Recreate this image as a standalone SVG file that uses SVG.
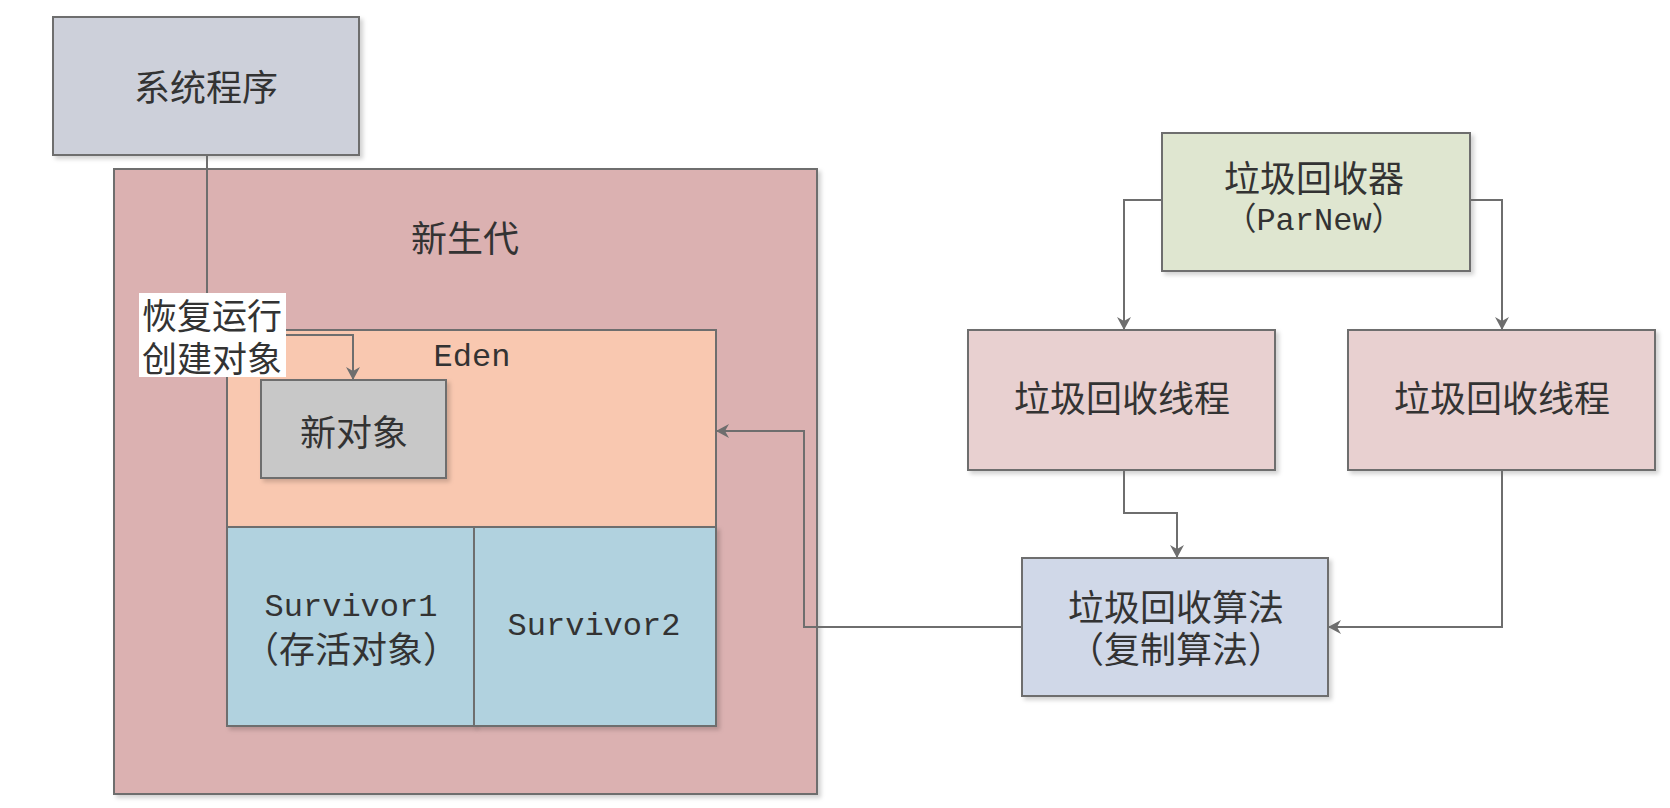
<svg xmlns="http://www.w3.org/2000/svg" width="1670" height="808" viewBox="0 0 1670 808">
<style>
.box{stroke:#6e6e6e;stroke-width:2}
.cjk{font-family:"Noto Sans CJK SC","Liberation Sans",sans-serif;font-size:36px;fill:#333;text-anchor:middle;dominant-baseline:central}
.lbl{font-family:"Noto Sans CJK SC","Liberation Sans",sans-serif;font-size:35px;fill:#333;text-anchor:middle;dominant-baseline:central}
.lat{font-family:"Liberation Mono","Noto Sans CJK SC",monospace;font-size:32px;fill:#333;text-anchor:middle;dominant-baseline:central}
.conn{fill:none;stroke:#6e6e6e;stroke-width:2}
</style>
<defs>
<filter id="sh" x="-5%" y="-5%" width="115%" height="115%">
<feDropShadow dx="3" dy="3" stdDeviation="2" flood-color="#000" flood-opacity="0.18"/>
</filter>
<marker id="arr" markerWidth="14" markerHeight="14" refX="12" refY="7" orient="auto" markerUnits="userSpaceOnUse">
<path d="M0,0 L13,7 L0,14 L4,7 Z" fill="#6e6e6e"/>
</marker>
</defs>
<rect width="1670" height="808" fill="#fff"/>
<g id="sys">
<rect class="box" x="53" y="17" width="306" height="138" fill="#cdd0da" filter="url(#sh)"/>
<text class="cjk" x="206" y="85">系统程序</text>
</g>
<g id="young">
<rect class="box" x="114" y="169" width="703" height="625" fill="#dbb1b1" filter="url(#sh)"/>
<text class="cjk" x="465" y="236">新生代</text>
</g>
<g id="eden">
<rect class="box" x="227" y="330" width="489" height="197" fill="#f9c8b0"/>
<text class="lat" x="472" y="357">Eden</text>
</g>
<g id="survivor1">
<rect class="box" x="227" y="527" width="247" height="199" fill="#b1d2df" filter="url(#sh)"/>
<text class="lat" x="351" y="607">Survivor1</text>
<text class="cjk" x="351" y="647">（存活对象）</text>
</g>
<g id="survivor2">
<rect class="box" x="474" y="527" width="242" height="199" fill="#b1d2df" filter="url(#sh)"/>
<text class="lat" x="594" y="626">Survivor2</text>
</g>
<g id="newobj">
<rect class="box" x="261" y="380" width="185" height="98" fill="#c8c8c8" filter="url(#sh)"/>
<text class="cjk" x="354" y="430">新对象</text>
</g>
<g id="gc">
<rect class="box" x="1162" y="133" width="308" height="138" fill="#dfe6d0" filter="url(#sh)"/>
<text class="cjk" x="1314" y="176">垃圾回收器</text>
<text class="lat" x="1314" y="221">（ParNew）</text>
</g>
<g id="thread1">
<rect class="box" x="968" y="330" width="307" height="140" fill="#e8d0d0" filter="url(#sh)"/>
<text class="cjk" x="1122" y="396">垃圾回收线程</text>
</g>
<g id="thread2">
<rect class="box" x="1348" y="330" width="307" height="140" fill="#e8d0d0" filter="url(#sh)"/>
<text class="cjk" x="1502" y="396">垃圾回收线程</text>
</g>
<g id="algo">
<rect class="box" x="1022" y="558" width="306" height="138" fill="#d0d8e8" filter="url(#sh)"/>
<text class="cjk" x="1176" y="605">垃圾回收算法</text>
<text class="cjk" x="1176" y="647">（复制算法）</text>
</g>
<g id="connectors">
<path class="conn" d="M207,155 V335 H353 V379" marker-end="url(#arr)"/>
<path class="conn" d="M1162,200 H1124 V329" marker-end="url(#arr)"/>
<path class="conn" d="M1470,200 H1502 V329" marker-end="url(#arr)"/>
<path class="conn" d="M1124,470 V513 H1177 V557" marker-end="url(#arr)"/>
<path class="conn" d="M1502,470 V627 H1329" marker-end="url(#arr)"/>
<path class="conn" d="M1022,627 H804 V431 H717" marker-end="url(#arr)"/>
<g id="label">
<rect x="139" y="293" width="147" height="84" fill="#fff"/>
<text class="lbl" x="212" y="313">恢复运行</text>
<text class="lbl" x="212" y="356">创建对象</text>
</g>
</g>
</svg>
